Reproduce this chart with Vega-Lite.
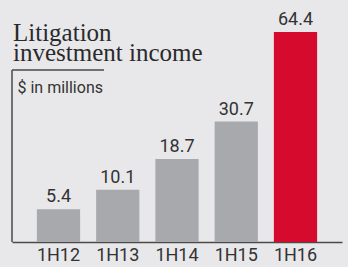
{
  "$schema": "https://vega.github.io/schema/vega-lite/v6.json",
  "width": 330,
  "height": 242,
  "autosize": "none",
  "padding": {"left": 12, "top": 0, "right": 6, "bottom": 25},
  "background": "#e8e8ea",
  "config": {"view": {"stroke": null}},
  "title": {
    "text": ["Litigation", "investment income"],
    "anchor": "start",
    "frame": "group",
    "offset": -66,
    "dx": 1,
    "font": "Liberation Serif",
    "fontSize": 25,
    "fontWeight": "normal",
    "lineHeight": 20,
    "color": "#2a2a2a"
  },
  "data": {
    "values": [
      {"period": "1H12", "income": 5.4},
      {"period": "1H13", "income": 10.1},
      {"period": "1H14", "income": 18.7},
      {"period": "1H15", "income": 30.7},
      {"period": "1H16", "income": 64.4}
    ]
  },
  "encoding": {
    "x": {
      "field": "period",
      "type": "nominal",
      "sort": null,
      "scale": {"paddingInner": 0.27, "paddingOuter": 0.42},
      "axis": {
        "title": null,
        "labelAngle": 0,
        "ticks": false,
        "domain": true,
        "domainColor": "#4a4a4a",
        "domainWidth": 1.5,
        "labelFont": "Roboto",
        "labelFontSize": 18,
        "labelFontWeight": "normal",
        "labelColor": "#333333",
        "labelPadding": 4
      }
    },
    "y": {
      "field": "income",
      "type": "quantitative",
      "scale": {"type": "pow", "exponent": 0.75, "domain": [0, 77.8], "nice": false, "zero": true},
      "axis": {
        "domain": false,
        "ticks": false,
        "labels": false,
        "grid": false,
        "title": "$ in millions",
        "titleAngle": 0,
        "titleAlign": "left",
        "titleBaseline": "alphabetic",
        "titleX": 5,
        "titleY": 92,
        "titleFont": "Roboto",
        "titleFontSize": 16,
        "titleFontWeight": "normal",
        "titleColor": "#333333"
      }
    }
  },
  "layer": [
    {
      "mark": {"type": "bar"},
      "encoding": {
        "color": {
          "condition": {"test": "datum.period === '1H16'", "value": "#d60a2c"},
          "value": "#a8a9ad"
        }
      }
    },
    {
      "mark": {"type": "text", "baseline": "alphabetic", "dy": -7, "font": "Roboto", "fontSize": 18, "color": "#333333"},
      "encoding": {"text": {"field": "income", "type": "quantitative", "format": ".1f"}}
    },
    {
      "data": {"values": [{}]},
      "mark": {"type": "rule", "color": "#4a4a4a", "strokeWidth": 1.5},
      "encoding": {"x": {"value": 0}, "y": {"value": 70}, "y2": {"value": 242}}
    },
    {
      "data": {"values": [{}]},
      "mark": {"type": "rule", "color": "#4a4a4a", "strokeWidth": 1.5},
      "encoding": {"x": {"value": 0}, "x2": {"value": 92}, "y": {"value": 70}}
    }
  ]
}
